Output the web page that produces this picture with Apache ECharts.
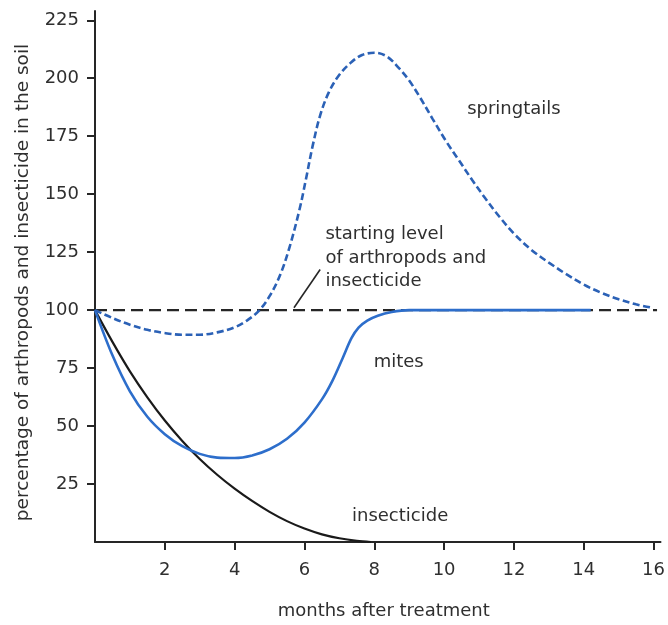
<!DOCTYPE html>
<html>
<head>
<meta charset="utf-8">
<script src="https://cdn.jsdelivr.net/npm/echarts@6/dist/echarts.min.js"></script>
<style>
  html, body { margin: 0; padding: 0; background: #fff; }
  #chart { width: 668px; height: 625px; }
</style>
</head>
<body>
<div id="chart"></div>
<script>
// Axis ticks
const monthTicks = [2, 4, 6, 8, 10, 12, 14, 16];
const percentTicks = [25, 50, 75, 100, 125, 150, 175, 200, 225];

// Starting level of arthropods and insecticide (reference line)
const startMonths = [0, 16.1];
const startValues = [100, 100];

// Springtails (% of starting level)
const springMonths = [0, 0.5, 1, 1.5, 2, 2.5, 3, 3.5, 4, 4.35, 4.7, 5.0, 5.3, 5.57, 5.86, 6.05, 6.23, 6.45, 6.7, 7.0, 7.35, 7.65, 8.0, 8.35, 8.7, 9.0, 9.3, 9.67, 10.05, 10.43, 10.81, 11.19, 11.6, 12.0, 12.5, 13.0, 13.5, 14.0, 14.5, 15.0, 15.5, 15.9];
const springValues = [100, 96.6, 93.7, 91.5, 90.1, 89.4, 89.4, 90.4, 92.6, 95.5, 99.8, 106, 115, 127, 143.5, 157, 170.5, 184, 194, 201.5, 207, 210, 211, 209.5, 204.5, 199, 192, 182.5, 173, 164.5, 156, 148, 140, 133, 126, 120.5, 115.5, 111, 107.5, 104.7, 102.5, 101.2];

// Mites (% of starting level)
const miteMonths = [0, 0.5, 1, 1.5, 2, 2.5, 3, 3.5, 4, 4.5, 5, 5.5, 6, 6.5, 6.8, 7.1, 7.35, 7.55, 7.8, 8.1, 8.5, 9, 10, 12, 14.2];
const miteValues = [100, 80.5, 65, 54, 46.5, 41.3, 38, 36.4, 36.2, 37.3, 40, 44.5, 51.5, 61.5, 69.5, 79.5, 88, 92.5, 95.5, 97.6, 99.2, 100, 100, 100, 100];

// Insecticide remaining in the soil (% of starting level)
const insectMonths = [0, 0.5, 1, 1.5, 2, 2.5, 3, 3.5, 4, 4.5, 5, 5.5, 6, 6.5, 7, 7.5, 7.9];
const insectValues = [100, 86.3, 73.6, 62.4, 52.4, 43.6, 35.8, 29, 23, 17.7, 13, 9, 5.8, 3.3, 1.6, 0.5, 0];

const pairs = (xs, ys) => xs.map((x, i) => [x, ys[i]]);

const FONT = 'DejaVu Sans';
const TEXT = '#2f2f2f';
const BLUE = '#2d6ecb';
const BLUE_DASH = '#2b61b6';

const chart = echarts.init(document.getElementById('chart'), null, { renderer: 'canvas' });

chart.setOption({
  animation: false,
  backgroundColor: '#fff',
  textStyle: { fontFamily: FONT },
  grid: { left: 95, right: 6, top: 11, bottom: 81, containLabel: false },
  xAxis: {
    type: 'value',
    min: 0,
    max: 16.2,
    name: 'months after treatment',
    nameLocation: 'middle',
    nameGap: 60,
    nameTextStyle: { fontFamily: FONT, fontSize: 18, color: TEXT, padding: [0, 0, 0, 12] },
    axisLine: { show: true, onZero: false, lineStyle: { color: '#262626', width: 2 } },
    axisTick: { show: true, inside: false, length: 8, customValues: monthTicks, lineStyle: { color: '#262626', width: 2 } },
    axisLabel: { customValues: monthTicks, margin: 19, fontFamily: FONT, fontSize: 18, color: TEXT },
    splitLine: { show: false }
  },
  yAxis: {
    type: 'value',
    min: 0,
    max: 229,
    name: 'percentage of arthropods and insecticide in the soil',
    nameLocation: 'middle',
    nameGap: 62,
    nameRotate: 90,
    nameTextStyle: { fontFamily: FONT, fontSize: 18.5, color: TEXT, padding: [0, 12, 0, 0] },
    axisLine: { show: true, onZero: false, lineStyle: { color: '#262626', width: 2 } },
    axisTick: { show: true, inside: false, length: 8, customValues: percentTicks, lineStyle: { color: '#262626', width: 2 } },
    axisLabel: { customValues: percentTicks, margin: 16, fontFamily: FONT, fontSize: 18, color: TEXT },
    splitLine: { show: false }
  },
  series: [
    {
      name: 'starting level',
      type: 'line',
      data: pairs(startMonths, startValues),
      showSymbol: false,
      symbol: 'none',
      lineStyle: { color: '#262626', width: 2.2, type: [12, 6] },
      markLine: {
        silent: true,
        symbol: 'none',
        label: { show: false },
        lineStyle: { color: '#262626', width: 1.6, type: 'solid' },
        data: [[{ coord: [5.7, 101] }, { coord: [6.45, 117.5] }]]
      },
      z: 1
    },
    {
      name: 'insecticide',
      type: 'line',
      data: pairs(insectMonths, insectValues),
      smooth: 0.35,
      showSymbol: false,
      symbol: 'none',
      lineStyle: { color: '#1a1a1a', width: 2.2 },
      z: 2
    },
    {
      name: 'mites',
      type: 'line',
      data: pairs(miteMonths, miteValues),
      smooth: 0.35,
      showSymbol: false,
      symbol: 'none',
      lineStyle: { color: BLUE, width: 2.6 },
      z: 3
    },
    {
      name: 'springtails',
      type: 'line',
      data: pairs(springMonths, springValues),
      smooth: 0.35,
      showSymbol: false,
      symbol: 'none',
      lineStyle: { color: BLUE_DASH, width: 2.6, type: [7, 3.5] },
      z: 4
    }
  ]
});

// Curve labels placed in data coordinates
const labels = [
  { text: 'springtails', at: [12.0, 186.5], align: 'center' },
  { text: 'starting level\nof arthropods and\ninsecticide', at: [6.6, 122.5], align: 'left' },
  { text: 'mites', at: [8.7, 77.6], align: 'center' },
  { text: 'insecticide', at: [8.74, 11.0], align: 'center' }
];

chart.setOption({
  graphic: labels.map(l => {
    const p = chart.convertToPixel({ xAxisIndex: 0, yAxisIndex: 0 }, l.at);
    return {
      type: 'text',
      x: p[0],
      y: p[1],
      silent: true,
      style: {
        text: l.text,
        fill: TEXT,
        fontFamily: FONT,
        fontSize: 18,
        lineHeight: 23.5,
        align: l.align,
        verticalAlign: 'middle'
      }
    };
  })
});
</script>
</body>
</html>
